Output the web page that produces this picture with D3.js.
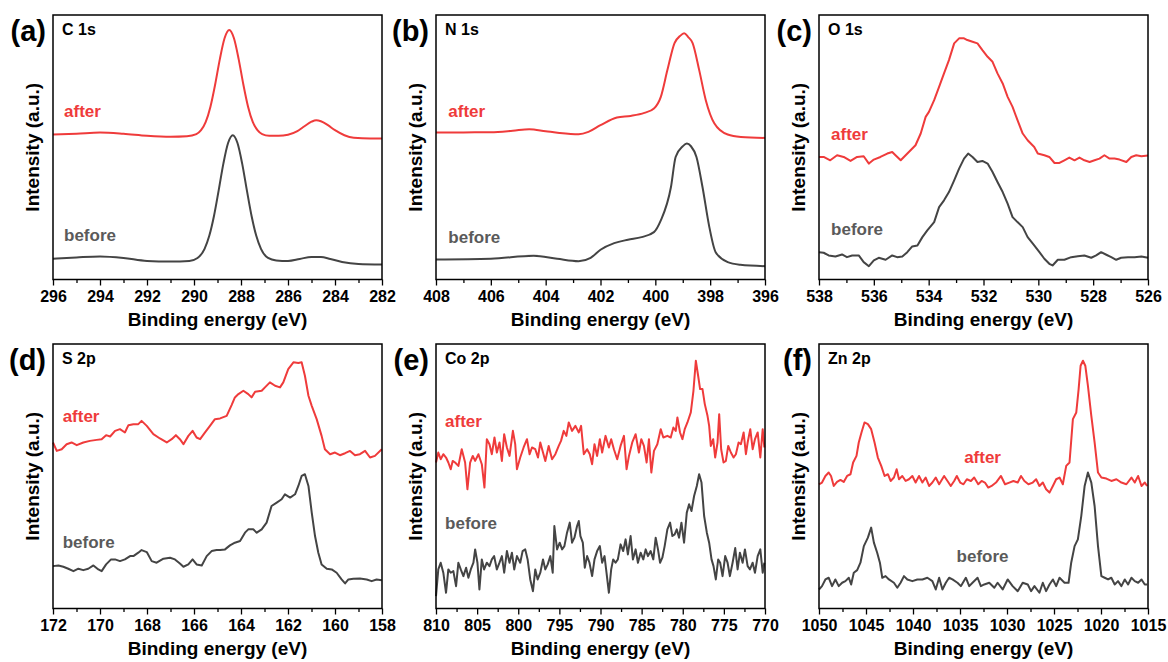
<!DOCTYPE html>
<html>
<head>
<meta charset="utf-8">
<script src="https://cdn.jsdelivr.net/npm/d3@7"></script>
<style>
body{margin:0;background:#fff;}
svg text{font-family:Arial,"Liberation Sans",Helvetica,sans-serif;font-weight:bold;}
</style>
</head>
<body>
<svg id="chart" width="1168" height="662"></svg>
<script>
// XPS spectra, [binding energy (eV), intensity (a.u.)]

const c1sAfter = [[296,144.7],[295,145.5],[294,146.7],[293,145.5],[292,143.5],[291,142.5],[290.3,143],[289.9,145.1],[289.7,149],[289.5,157.3],[289.3,172.5],[289.1,194.6],[288.9,220],[288.7,240.8],[288.5,249],[288.3,240.8],[288.1,220],[287.9,194.6],[287.7,172.5],[287.5,157.3],[287.3,149],[287.1,145.1],[286.8,143.5],[286.4,143.5],[286.0,144.5],[285.6,148],[285.3,153],[285.0,157.5],[284.8,159],[284.6,158],[284.3,154],[284.0,149],[283.6,144],[283.2,141.5],[282.5,140.7],[282,140.7]];
const c1sBefore = [[296,20.7],[295,22],[294,23],[293,21.5],[292,18.5],[291,18],[290.2,18.5],[289.85,21.5],[289.55,30.6],[289.35,43.6],[289.15,63.4],[288.95,89],[288.75,115.7],[288.55,136.2],[288.35,144],[288.15,136.2],[287.95,115.7],[287.75,89],[287.55,63.4],[287.35,43.6],[287.15,30.6],[286.85,21.5],[286.5,19],[286,18.5],[285.5,20.5],[285,22.5],[284.6,22.5],[284.2,20.5],[283.7,17.5],[283,15.5],[282,15]];

const n1sAfter = [[408,146.7],[407,146.8],[406,147],[405.2,148.5],[404.6,150],[404,148],[403.5,146.3],[402.8,145],[402.44,147.3],[402,154],[401.4,161.7],[400.9,163.3],[400.4,166.3],[400.05,170.7],[399.8,182.3],[399.56,209],[399.3,236],[399.1,243],[398.95,245.7],[398.8,242],[398.64,236],[398.4,209],[398.16,179],[397.85,156],[397.36,144.7],[396.88,142.3],[396,141.3]];
const n1sBefore = [[408,20],[406,20.7],[404.44,23.7],[403.58,20.7],[402.8,18.3],[402.36,21.7],[402,29.7],[401.5,36.3],[401,39.7],[400.5,42.3],[400.05,47.3],[399.8,59],[399.43,92.3],[399.26,122.3],[399.0,133],[398.85,135.7],[398.7,133],[398.5,122.3],[398.28,92.3],[398.03,52.3],[397.8,27.3],[397.36,17.3],[396.9,14.7],[396,13.3]];

const o1sAfter = [[538,122.3],[537.83,122.3],[537.59,119],[537.34,124],[537.1,122.3],[536.85,118.3],[536.61,122.3],[536.37,123],[536.18,115.7],[536,119.7],[535.76,122.3],[535.51,125.7],[535.33,127.3],[535.21,124],[535.02,119],[534.84,124],[534.66,129],[534.48,134],[534.29,145.7],[534.11,162.3],[533.99,167.3],[533.8,179],[533.62,192.3],[533.44,205.7],[533.26,219],[533.07,235.7],[532.89,240.7],[532.71,240.7],[532.59,239],[532.4,237.3],[532.22,235.7],[532.04,229],[531.85,222.3],[531.67,217.3],[531.49,205.7],[531.3,195.7],[531.12,182.3],[530.94,172.3],[530.76,159],[530.57,145.7],[530.39,139],[530.15,132.3],[530.02,125.7],[529.78,124],[529.6,122.3],[529.41,116.3],[529.23,116.3],[529.05,119],[528.87,121.7],[528.68,119],[528.5,121.7],[528.32,119],[528.13,117.3],[527.95,119],[527.77,120.7],[527.59,124],[527.4,120.7],[527.22,120.7],[527.04,119.7],[526.79,117.3],[526.61,122.3],[526.43,124],[526.24,123],[526,123.7]];
const o1sBefore = [[538,27.3],[537.83,26.7],[537.65,24],[537.4,23],[537.16,25],[536.98,22.3],[536.79,24],[536.55,24],[536.37,17.3],[536.18,13.3],[536,19],[535.82,21.7],[535.57,19.7],[535.33,24],[535.15,22.3],[534.96,23],[534.78,27.3],[534.6,33],[534.41,34],[534.23,42.3],[534.05,49],[533.8,57.3],[533.62,72.3],[533.44,79],[533.26,87.3],[533.07,99],[532.89,110.7],[532.71,120.7],[532.56,125.7],[532.4,122.3],[532.22,117.3],[532.04,118.3],[531.85,115.7],[531.67,107.3],[531.49,97.3],[531.3,87.3],[531.12,75.7],[530.94,62.3],[530.76,57.3],[530.57,52.3],[530.39,42.3],[530.15,34],[529.96,27.3],[529.78,20.7],[529.6,15.7],[529.48,14],[529.29,19.7],[529.05,19.7],[528.8,22.3],[528.56,23.3],[528.32,24],[528.07,21.7],[527.89,24],[527.71,27.3],[527.52,24.7],[527.34,22.3],[527.16,19.7],[526.98,21.7],[526.73,22.3],[526.49,22.3],[526.24,23],[526,21.7]];

const s2pAfter = [[172,165.7],[171.84,157.3],[171.63,159],[171.42,164],[171.21,165.7],[170.99,163],[170.71,165.7],[170.43,167.3],[170.14,168.3],[169.93,169],[169.74,173],[169.57,171.7],[169.36,177.3],[169.15,179],[168.94,175.7],[168.79,183],[168.58,184],[168.37,184],[168.23,187.3],[168.01,182.3],[167.73,174],[167.45,169.7],[167.16,165.7],[166.95,169],[166.77,173],[166.6,169],[166.45,164],[166.24,172.3],[166.06,177.3],[165.89,170.7],[165.74,169],[165.53,175.7],[165.32,182.3],[165.11,189],[164.89,189.7],[164.61,192.3],[164.4,203],[164.26,210.7],[164.11,214],[163.9,217.3],[163.69,214],[163.55,210.7],[163.4,216.3],[163.12,217.3],[162.98,220.7],[162.77,225.7],[162.55,222.3],[162.34,220.7],[162.2,225.7],[161.99,239],[161.77,245.7],[161.56,245],[161.42,245.7],[161.28,232.3],[161.13,212.3],[160.99,202.3],[160.78,189],[160.57,172.3],[160.43,159],[160.21,154],[160,155.7],[159.79,153],[159.57,155],[159.36,157.3],[159.15,153],[158.94,154],[158.72,157.3],[158.51,150.7],[158.3,152.3],[158.01,159]];
const s2pBefore = [[172,42.3],[171.77,43],[171.56,41.7],[171.35,39.7],[171.13,37.3],[170.92,39.7],[170.71,38.3],[170.5,39.7],[170.28,43],[170.07,39],[169.93,37.3],[169.74,44],[169.53,49],[169.36,49],[169.15,47.3],[168.94,49],[168.72,52.3],[168.58,52.3],[168.37,55.7],[168.23,58.3],[168.01,56.3],[167.8,47.3],[167.59,45.7],[167.3,49.7],[167.02,50.7],[166.81,49],[166.6,45],[166.45,41.7],[166.24,44],[166.06,49],[165.89,44],[165.67,43],[165.46,52.3],[165.25,57.3],[165.04,58.3],[164.89,58.3],[164.68,59],[164.47,63],[164.26,65.7],[164.04,67.3],[163.83,75.7],[163.69,79],[163.48,79],[163.33,75.7],[163.12,79],[162.91,85.7],[162.7,102.3],[162.48,105.7],[162.27,109],[162.13,114],[161.91,110.7],[161.7,114],[161.56,122.3],[161.42,132.3],[161.28,134],[161.13,122.3],[160.99,95.7],[160.85,72.3],[160.71,55.7],[160.57,44],[160.35,39.7],[160.14,39],[159.93,35.7],[159.72,29],[159.57,25],[159.43,29],[159.22,29.7],[158.94,30],[158.65,29],[158.44,27.3],[158.23,29],[158.01,28.3]];

const co2pAfter = [[810,145.7],[809.72,155.7],[809.43,149],[809.11,154],[808.78,150.7],[808.5,145.7],[808.21,139],[807.97,147.3],[807.68,145.7],[807.28,142.3],[806.87,159],[806.46,145.7],[806.18,119],[805.85,145.7],[805.53,152.3],[805.24,147.3],[804.84,154],[804.43,144],[804.11,120.7],[803.82,169],[803.5,164],[803.21,154],[802.89,170.7],[802.6,155.7],[802.28,165.7],[801.99,147.3],[801.71,174],[801.38,160.7],[801.06,152.3],[800.65,177.3],[800.37,164],[800.16,139],[799.76,150.7],[799.35,160.7],[798.94,169],[798.62,154],[798.33,160.7],[797.93,159],[797.6,150.7],[797.32,165.7],[796.99,155.7],[796.71,147.3],[796.3,162.3],[795.89,149],[795.49,154],[795.08,162.3],[794.8,167.3],[794.47,177.3],[794.15,172.3],[793.86,185.7],[793.46,177.3],[793.05,182.3],[792.64,175.7],[792.36,182.3],[792.03,154],[791.63,159],[791.3,154],[791.02,144],[790.73,164],[790.41,152.3],[790.08,169],[789.8,155.7],[789.39,172.3],[788.98,160.7],[788.7,169],[788.37,159],[787.97,149],[787.56,162.3],[787.15,172.3],[786.83,139],[786.54,152.3],[786.14,165.7],[785.73,174],[785.33,155.7],[785.04,169],[784.72,162.3],[784.39,145.7],[784.11,169],[783.82,135.7],[783.5,157.3],[783.09,164],[782.68,179],[782.36,170.7],[781.87,172.3],[781.46,170.7],[781.14,180.7],[780.85,177.3],[780.65,190.7],[780.33,175.7],[780.04,169],[779.76,179],[779.43,185.7],[779.02,195.7],[778.7,217.3],[778.41,247.3],[778.13,232.3],[777.89,219],[777.6,219],[777.32,204],[776.99,192.3],[776.79,182.3],[776.59,162.3],[776.3,169],[776.06,150.7],[775.77,165.7],[775.57,194],[775.33,159],[775.04,145.7],[774.76,147.3],[774.47,162.3],[774.15,155.7],[773.82,150.7],[773.54,154],[773.21,165.7],[772.93,164],[772.6,175.7],[772.32,154],[772.11,165.7],[771.79,179],[771.5,159],[771.22,169],[770.89,175.7],[770.57,150.7],[770.28,179],[770.08,160.7]];
const co2pBefore = [[810,12.3],[809.72,39],[809.43,45.7],[809.11,35.7],[808.78,15.7],[808.5,39],[808.21,35.7],[807.89,37.3],[807.56,22.3],[807.28,45.7],[806.99,39],[806.67,32.3],[806.34,40.7],[806.06,30.7],[805.77,39],[805.45,45.7],[805.24,59],[804.96,45.7],[804.72,19],[804.43,49],[804.15,39],[803.82,45.7],[803.5,42.3],[803.21,49],[802.93,52.3],[802.6,39],[802.28,45.7],[801.99,52.3],[801.71,35.7],[801.38,57.3],[801.06,45.7],[800.77,55.7],[800.49,39],[800.16,52.3],[799.76,45.7],[799.47,57.3],[799.15,59],[798.86,49],[798.54,29],[798.21,17.3],[797.93,39],[797.64,29],[797.32,35.7],[796.99,49],[796.71,39],[796.42,44],[796.1,52.3],[795.81,35.7],[795.61,82.3],[795.28,59],[794.96,65.7],[794.67,59],[794.39,62.3],[794.07,75.7],[793.74,85.7],[793.46,65.7],[793.17,70.7],[792.85,82.3],[792.64,87.3],[792.44,72.3],[792.15,65.7],[791.91,40.7],[791.63,52.3],[791.34,45.7],[791.02,32.3],[790.73,49],[790.41,57.3],[790.08,62.3],[789.8,45.7],[789.51,52.3],[789.27,35.7],[788.98,15.7],[788.7,39],[788.46,49],[788.17,45.7],[787.89,49],[787.56,64],[787.24,57.3],[786.95,69],[786.67,54],[786.34,72.3],[786.06,49],[785.73,59],[785.45,45.7],[785.12,55.7],[784.8,49],[784.51,59],[784.23,52.3],[783.9,57.3],[783.58,49],[783.29,70.7],[783.01,59],[782.76,45.7],[782.48,50.7],[782.2,62.3],[781.87,79],[781.54,85.7],[781.26,72.3],[780.98,74],[780.73,79],[780.45,70.7],[780.16,85.7],[779.84,65.7],[779.51,95.7],[779.23,104],[778.94,97.3],[778.62,112.3],[778.29,122.3],[778.01,134],[777.72,125.7],[777.4,92.3],[777.07,75.7],[776.79,65.7],[776.5,49],[776.26,42.3],[775.98,29],[775.69,49],[775.45,45.7],[775.16,32.3],[774.84,52.3],[774.55,45.7],[774.27,32.3],[773.94,45.7],[773.62,60.3],[773.33,39],[773.05,55.7],[772.72,45.7],[772.44,59],[772.11,42.3],[771.83,39],[771.5,45.7],[771.22,35.7],[770.89,52.3],[770.57,59],[770.28,35.7],[770.08,45.7]];

const zn2pAfter = [[1050,124],[1049.68,125.7],[1049.32,132.3],[1048.97,135.7],[1048.72,132.3],[1048.43,122.3],[1048.08,126.3],[1047.72,128.3],[1047.37,126.3],[1047.01,132.3],[1046.65,134],[1046.37,145.7],[1046.01,152.3],[1045.77,165.7],[1045.48,175.7],[1045.16,185.7],[1044.8,184],[1044.45,179],[1044.09,165.7],[1043.74,150.7],[1043.38,142.3],[1043.02,132.3],[1042.67,134],[1042.38,127.3],[1042.03,130.7],[1041.74,139],[1041.49,129],[1041.14,132.3],[1040.78,127.3],[1040.43,129],[1040.07,132.3],[1039.72,125.7],[1039.36,132.3],[1039,125.7],[1038.65,130.7],[1038.29,122.3],[1037.94,125.7],[1037.58,130.7],[1037.22,124],[1036.69,132.3],[1036.33,127.3],[1035.98,122.3],[1035.62,127.3],[1035.34,132.3],[1034.98,125.7],[1034.63,124],[1034.27,129],[1033.84,127.3],[1033.49,130.7],[1033.06,124],[1032.7,127.3],[1032.35,125.7],[1031.99,120.7],[1031.64,122.3],[1031.17,125.7],[1030.64,132.3],[1030.21,124],[1029.75,125.7],[1029.32,127.3],[1028.86,125.7],[1028.51,132.3],[1028.15,127.3],[1027.72,124],[1027.26,125.7],[1026.9,129],[1026.55,122.3],[1026.19,125.7],[1025.84,119],[1025.48,115.7],[1025.12,122.3],[1024.77,129],[1024.41,130.7],[1024.06,124],[1023.7,142.3],[1023.35,145.7],[1022.99,189],[1022.63,195.7],[1022.38,219],[1022.17,242.3],[1021.92,247.3],[1021.67,242.3],[1021.39,222.3],[1021.03,192.3],[1020.68,165.7],[1020.32,135.7],[1019.96,130.7],[1019.43,129.7],[1018.9,127.3],[1018.36,129],[1017.83,125.7],[1017.3,124],[1016.76,130.7],[1016.41,125.7],[1016.05,132.3],[1015.69,122.3],[1015.34,125.7],[1015.09,122.3]];
const zn2pBefore = [[1050,19],[1049.68,22.3],[1049.32,29],[1048.97,30.7],[1048.61,22.3],[1048.26,29],[1047.9,22.3],[1047.54,25.7],[1047.19,27.3],[1046.83,30.7],[1046.58,24],[1046.3,35.7],[1045.94,38.3],[1045.59,45.7],[1045.23,62.3],[1044.8,70.7],[1044.45,80.7],[1044.16,65.7],[1043.81,55.7],[1043.52,45.7],[1043.27,30.7],[1042.92,32.3],[1042.56,29],[1042.03,25.7],[1041.67,20.7],[1041.32,25.7],[1040.96,32.3],[1040.6,29],[1040.07,27.3],[1039.54,29],[1039,29],[1038.47,30.7],[1037.94,27.3],[1037.58,19],[1037.22,30.7],[1036.87,19],[1036.51,25.7],[1036.16,30.7],[1035.8,29],[1035.27,25.7],[1034.91,22.3],[1034.38,30.7],[1034.02,22.3],[1033.67,25.7],[1033.13,30.7],[1032.78,22.3],[1032.42,24],[1031.89,25.7],[1031.35,20.7],[1031,25.7],[1030.46,19],[1029.93,29],[1029.4,22.3],[1028.86,17.3],[1028.33,25.7],[1027.79,24],[1027.44,17.3],[1027.08,22.3],[1026.55,15.7],[1026.19,25.7],[1025.84,17.3],[1025.48,24],[1025.12,29],[1024.77,22.3],[1024.41,30.7],[1023.88,25.7],[1023.45,25.7],[1023.17,45.7],[1022.81,62.3],[1022.46,69],[1022.1,92.3],[1021.74,122.3],[1021.39,135.7],[1021.03,125.7],[1020.68,102.3],[1020.32,62.3],[1019.96,32.3],[1019.61,30.7],[1019.25,29],[1018.9,30.7],[1018.54,24],[1018.19,27.3],[1017.83,22.3],[1017.47,29],[1017.12,24],[1016.76,30.7],[1016.41,27.3],[1016.05,25.7],[1015.69,29],[1015.34,24],[1015.09,24]];

const panels = [
  {letter:'(a)', title:'C 1s',  col:0, row:0, domain:[296,282],  major:2, minor:1,   smooth:true,  after:c1sAfter,  before:c1sBefore,  afterLab:[295.53,162,'start'], beforeLab:[295.53,38.3,'start']},
  {letter:'(b)', title:'N 1s',  col:1, row:0, domain:[408,396],  major:2, minor:1,   smooth:true,  after:n1sAfter,  before:n1sBefore,  afterLab:[407.55,162.3,'start'], beforeLab:[407.55,36.7,'start']},
  {letter:'(c)', title:'O 1s',  col:2, row:0, domain:[538,526],  major:2, minor:1,   smooth:false, after:o1sAfter,  before:o1sBefore,  afterLab:[537.56,139.7,'start'], beforeLab:[537.56,44,'start']},
  {letter:'(d)', title:'S 2p',  col:0, row:1, domain:[172,158],  major:2, minor:1,   smooth:false, after:s2pAfter,  before:s2pBefore,  afterLab:[171.59,186.3,'start'], beforeLab:[171.59,60.7,'start']},
  {letter:'(e)', title:'Co 2p', col:1, row:1, domain:[810,770],  major:5, minor:2.5, smooth:false, after:co2pAfter, before:co2pBefore, afterLab:[808.9,181.3,'start'], beforeLab:[808.9,79,'start']},
  {letter:'(f)', title:'Zn 2p', col:2, row:1, domain:[1050,1015],major:5, minor:2.5, smooth:false, after:zn2pAfter, before:zn2pBefore, afterLab:[1032.6,145.7,'middle'], beforeLab:[1032.6,46.7,'middle']}
];

const svg = d3.select('#chart');
const colX = [53, 436, 819], rowY = [15, 344];
const W = 329, H = 264.5;
const red = '#ef3b3b', grey = '#444444', greyText = '#5a5a5a';

panels.forEach(p => {
  const g = svg.append('g').attr('transform', `translate(${colX[p.col]},${rowY[p.row]})`);
  const x = d3.scaleLinear().domain(p.domain).range([0, W]);
  const y = d3.scaleLinear().domain([0, 264]).range([H, 0]);

  const lo = p.domain[1], hi = p.domain[0];
  const majors = d3.range(lo, hi + 0.001, p.major);
  const minors = d3.range(lo, hi + 0.001, p.minor).filter(v => !majors.some(m => Math.abs(m - v) < 1e-6));

  // minor ticks
  g.append('g').attr('transform', `translate(0,${H})`)
    .call(d3.axisBottom(x).tickValues(minors).tickSize(3.5).tickSizeOuter(0).tickFormat(''))
    .call(a => a.select('.domain').remove())
    .selectAll('line').attr('stroke', '#000').attr('stroke-width', 1.3);

  // major ticks + labels
  const ax = g.append('g').attr('transform', `translate(0,${H})`)
    .call(d3.axisBottom(x).tickValues(majors).tickSize(6).tickSizeOuter(0).tickPadding(5.5).tickFormat(d3.format('d')));
  ax.select('.domain').remove();
  ax.selectAll('line').attr('stroke', '#000').attr('stroke-width', 1.3);
  ax.selectAll('text').attr('fill', '#000').style('font-size', '16px')
    .style('font-family', 'Arial,"Liberation Sans",Helvetica,sans-serif').style('font-weight', 'bold');

  const line = d3.line()
    .x(d => x(d[0])).y(d => y(d[1]))
    .curve(p.smooth ? d3.curveMonotoneX : d3.curveLinear);

  g.append('path').datum(p.before).attr('d', line)
    .attr('fill', 'none').attr('stroke', grey).attr('stroke-width', 2).attr('stroke-linejoin', 'round');
  g.append('path').datum(p.after).attr('d', line)
    .attr('fill', 'none').attr('stroke', red).attr('stroke-width', 2).attr('stroke-linejoin', 'round');

  // frame
  g.append('rect').attr('width', W).attr('height', H)
    .attr('fill', 'none').attr('stroke', '#000').attr('stroke-width', 1.5);

  g.append('text').attr('x', x(p.afterLab[0])).attr('y', y(p.afterLab[1]))
    .attr('text-anchor', p.afterLab[2]).attr('fill', red).style('font-size', '17px').text('after');
  g.append('text').attr('x', x(p.beforeLab[0])).attr('y', y(p.beforeLab[1]))
    .attr('text-anchor', p.beforeLab[2]).attr('fill', greyText).style('font-size', '17px').text('before');

  g.append('text').attr('x', 9).attr('y', 20).attr('fill', '#000').style('font-size', '16px').text(p.title);
  g.append('text').attr('x', -7).attr('y', 26).attr('text-anchor', 'end').attr('fill', '#000')
    .style('font-size', '29px').text(p.letter);

  g.append('text').attr('transform', `translate(-14,${H / 2}) rotate(-90)`)
    .attr('text-anchor', 'middle').attr('fill', '#000').style('font-size', '19px').text('Intensity (a.u.)');
  g.append('text').attr('x', W / 2).attr('y', H + 46).attr('text-anchor', 'middle')
    .attr('fill', '#000').style('font-size', '19px').text('Binding energy (eV)');
});
</script>
</body>
</html>
